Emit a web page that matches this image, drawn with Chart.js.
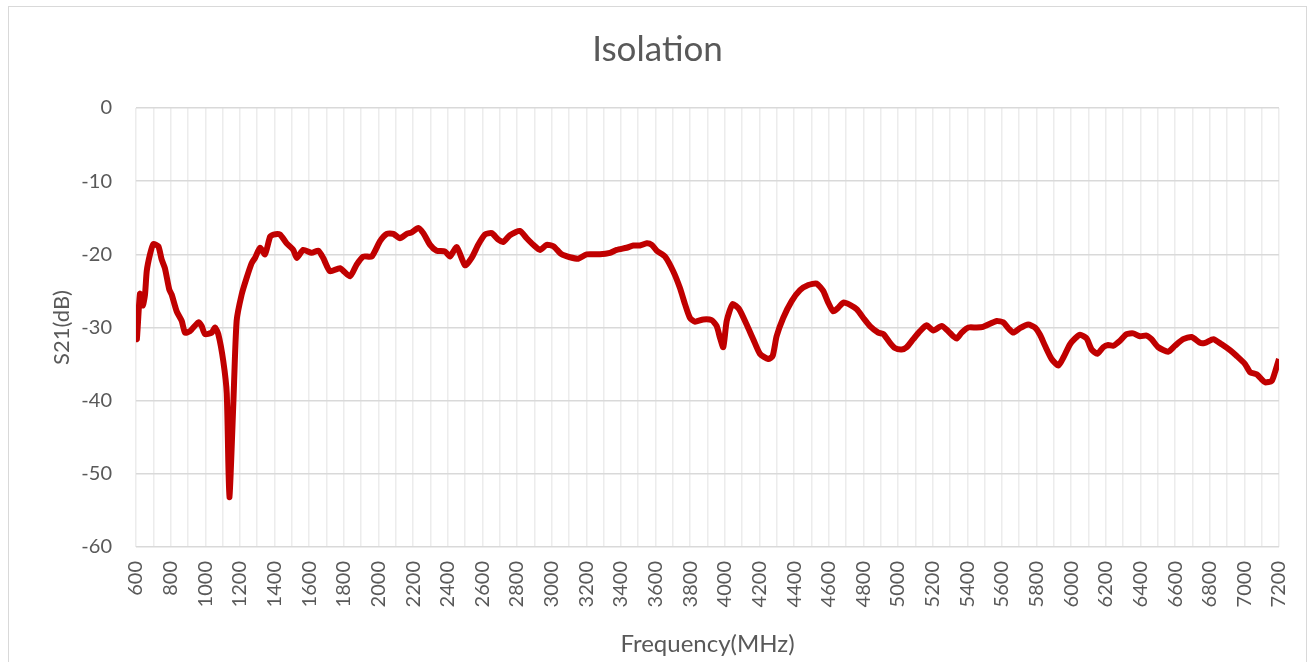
<!DOCTYPE html>
<html>
<head>
<meta charset="utf-8">
<script src="https://cdn.jsdelivr.net/npm/chart.js@4/dist/chart.umd.min.js"></script>
<style>
  body { margin: 0; background: #fff; overflow: hidden; }
  #box { position: absolute; left: 8px; top: 6px; width: 1297px; height: 670px; border: 1px solid #d9d9d9; }
</style>
</head>
<body>
<div id="box"><canvas id="isoChart" width="1297" height="655"></canvas></div>
<script>
const chartTitle = 'Isolation';
const xTitle = 'Frequency(MHz)';
const yTitle = 'S21(dB)';

const freqMHz = [
  600, 605, 623, 639, 652, 662, 681, 700, 729, 748, 767, 792, 806, 835, 864, 883, 912, 960, 979, 998,
  1037, 1056, 1075, 1104, 1124, 1139, 1162, 1181, 1210, 1239, 1268, 1287, 1316, 1345, 1374, 1393, 1431, 1470, 1508, 1528,
  1566, 1614, 1653, 1681, 1720, 1778, 1836, 1874, 1912, 1961, 2009, 2048, 2086, 2124, 2163, 2192, 2230, 2259, 2298, 2336,
  2384, 2413, 2452, 2500, 2538, 2576, 2615, 2654, 2692, 2721, 2759, 2817, 2856, 2894, 2933, 2971, 3010, 3058, 3106, 3154,
  3202, 3279, 3337, 3376, 3433, 3472, 3510, 3549, 3578, 3607, 3655, 3702, 3741, 3770, 3799, 3828, 3876, 3924, 3953, 3972,
  3991, 4011, 4045, 4083, 4126, 4164, 4203, 4251, 4276, 4299, 4337, 4386, 4434, 4482, 4530, 4568, 4597, 4626, 4655, 4684,
  4723, 4761, 4800, 4838, 4886, 4915, 4954, 4982, 5021, 5050, 5088, 5127, 5165, 5204, 5252, 5290, 5319, 5339, 5368, 5406,
  5454, 5492, 5531, 5570, 5608, 5637, 5666, 5704, 5752, 5791, 5820, 5849, 5887, 5926, 5955, 5993, 6022, 6051, 6089, 6118,
  6151, 6185, 6214, 6243, 6282, 6320, 6358, 6397, 6435, 6464, 6503, 6560, 6599, 6647, 6696, 6744, 6773, 6821, 6869, 6917,
  6956, 7004, 7033, 7071, 7100, 7119, 7158, 7177, 7200
];

const s21dB = [
  -28.5, -31.6, -25.4, -27.0, -25.5, -22.3, -20.0, -18.6, -18.9, -20.7, -21.9, -24.8, -25.5, -27.8, -29.1, -30.7, -30.5, -29.3, -29.8, -30.9,
  -30.7, -30.0, -30.9, -34.6, -39.0, -53.2, -40.4, -29.1, -25.5, -23.2, -21.2, -20.5, -19.1, -20.0, -17.6, -17.3, -17.3, -18.5, -19.4, -20.5,
  -19.4, -19.8, -19.5, -20.5, -22.3, -21.9, -23.0, -21.4, -20.3, -20.3, -18.2, -17.2, -17.2, -17.8, -17.2, -17.0, -16.4, -17.1, -18.7, -19.5,
  -19.6, -20.3, -19.0, -21.5, -20.5, -18.7, -17.3, -17.1, -18.0, -18.3, -17.4, -16.8, -17.8, -18.7, -19.4, -18.7, -18.9, -20.0, -20.4, -20.6,
  -20.0, -20.0, -19.8, -19.4, -19.1, -18.8, -18.8, -18.5, -18.7, -19.5, -20.3, -22.3, -24.6, -26.8, -28.7, -29.2, -28.9, -29.0, -29.8, -31.4,
  -32.7, -29.1, -26.8, -27.5, -29.6, -31.6, -33.6, -34.3, -33.9, -31.2, -28.7, -26.4, -24.9, -24.2, -24.0, -25.0, -26.6, -27.8, -27.3, -26.6,
  -26.9, -27.5, -28.7, -29.8, -30.7, -30.9, -32.1, -32.8, -33.0, -32.7, -31.6, -30.5, -29.7, -30.4, -29.8, -30.5, -31.2, -31.5, -30.7, -30.0,
  -30.0, -29.9, -29.5, -29.1, -29.3, -30.1, -30.7, -30.1, -29.6, -30.0, -31.0, -32.5, -34.3, -35.2, -34.1, -32.3, -31.5, -31.0, -31.5, -33.0,
  -33.6, -32.7, -32.4, -32.5, -31.8, -30.9, -30.8, -31.2, -31.1, -31.6, -32.7, -33.3, -32.5, -31.6, -31.3, -32.1, -32.1, -31.6, -32.3, -33.1,
  -33.9, -35.0, -36.1, -36.4, -37.1, -37.5, -37.3, -36.1, -34.3
];

const xRange = [600, 7200];
const yRange = [-60, 0];

const points = freqMHz.map((f, i) => ({ x: f, y: s21dB[i] }));

const textColor = '#595959';
const fontFace = 'Lato, "Open Sans", sans-serif';

new Chart(document.getElementById('isoChart'), {
  type: 'line',
  data: {
    datasets: [{
      label: yTitle,
      data: points,
      borderColor: '#c00000',
      borderWidth: 6,
      pointRadius: 0,
      tension: 0.2,
      fill: false
    }]
  },
  options: {
    responsive: false,
    animation: false,
    layout: { padding: 0 },
    plugins: {
      legend: { display: false },
      tooltip: { enabled: false },
      title: {
        display: true,
        text: chartTitle,
        color: textColor,
        font: { family: fontFace, size: 35, weight: 'normal' },
        padding: { top: 22, bottom: 37 }
      }
    },
    scales: {
      x: {
        type: 'linear',
        min: xRange[0],
        max: xRange[1],
        afterFit: s => { s.height = 115; s.paddingLeft = 0; s.paddingRight = 0; },
        border: { display: false },
        grid: { color: '#ececec', lineWidth: 1.5, drawTicks: false },
        ticks: {
          stepSize: 100,
          autoSkip: false,
          minRotation: 90,
          maxRotation: 90,
          padding: 14,
          color: textColor,
          font: { family: fontFace, size: 20 },
          callback: v => (v % 200 === 0 ? String(v) : '')
        },
        title: {
          display: true,
          text: xTitle,
          color: textColor,
          font: { family: fontFace, size: 24 },
          padding: { top: 0, bottom: 3 }
        }
      },
      y: {
        min: yRange[0],
        max: yRange[1],
        afterFit: s => { s.width = 127; },
        border: { display: false },
        grid: { color: '#d9d9d9', lineWidth: 1.5, drawTicks: false },
        ticks: {
          stepSize: 10,
          padding: 24,
          color: textColor,
          font: { family: fontFace, size: 20 }
        },
        title: {
          display: true,
          text: yTitle,
          color: textColor,
          font: { family: fontFace, size: 22 },
          padding: { top: 40, bottom: 0 }
        }
      },
      // empty right-hand spacer so the title stays centred on the whole frame
      yRight: {
        position: 'right',
        min: yRange[0],
        max: yRange[1],
        afterFit: s => { s.width = 27; },
        border: { display: false },
        grid: { display: false },
        ticks: { display: false }
      }
    }
  }
});
</script>
</body>
</html>
